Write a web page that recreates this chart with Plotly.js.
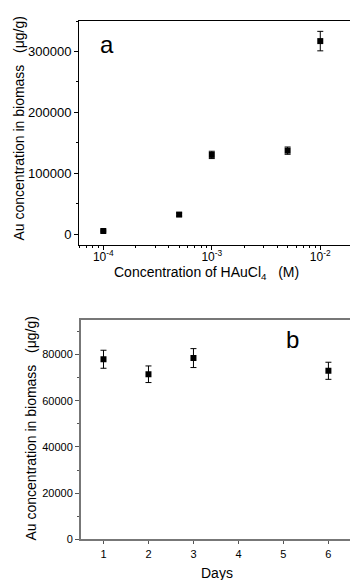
<!DOCTYPE html>
<html><head><meta charset="utf-8">
<script src="https://cdn.plot.ly/plotly-3.0.1.min.js"></script>
<style>html,body{margin:0;padding:0;background:#fff}#chart{width:350px;height:580px}</style>
</head><body><div id="chart"></div>
<script>
// Panel a
const concM = [1e-4, 5e-4, 1e-3, 5e-3, 1e-2];
const auA = [5000, 32000, 130000, 137000, 317000];
const errA = [1500, 2500, 6000, 6000, 16000];
const xTickValsA = [1e-4, 1e-3, 1e-2];
const xTickTextA = ['10<sup>-4</sup>', '10<sup>-3</sup>', '10<sup>-2</sup>'];
const yTickValsA = [0, 100000, 200000, 300000];
// Panel b
const days = [1, 2, 3, 6];
const auB = [78000, 71500, 78500, 73000];
const errB = [3900, 3600, 4100, 3700];
const yTickValsB = [0, 20000, 40000, 60000, 80000];

const W = 350, H = 580;
const minorA = [];
for (let e = -5; e <= -2; e++) for (let m = 2; m <= 9; m++) minorA.push(m * Math.pow(10, e));

const font = 'Arial, "Liberation Sans", sans-serif';
const ytitle = 'Au concentration in biomass &nbsp; (μg/g)';

const traces = [
  {x: concM, y: auA, type: 'scatter', mode: 'markers', xaxis: 'x', yaxis: 'y',
   marker: {symbol: 'square', size: 6, color: '#000'},
   error_y: {type: 'data', array: errA, visible: true, color: '#000', thickness: 1, width: 3}},
  {x: days, y: auB, type: 'scatter', mode: 'markers', xaxis: 'x2', yaxis: 'y2',
   marker: {symbol: 'square', size: 6, color: '#000'},
   error_y: {type: 'data', array: errB, visible: true, color: '#000', thickness: 1, width: 3}}
];

const layout = {
  width: W, height: H, showlegend: false,
  margin: {l: 0, r: 0, t: 0, b: 0},
  paper_bgcolor: '#fff', plot_bgcolor: '#fff',
  font: {family: font, color: '#000', size: 13},
  xaxis: {
    type: 'log', domain: [79 / W, 1], anchor: 'y',
    range: [-4.224, -1.726],
    tickvals: xTickValsA, ticktext: xTickTextA,
    ticks: 'outside', ticklen: 4, tickcolor: '#000', tickwidth: 1,
    ticklabelstandoff: -3,
    minor: {tickvals: minorA, ticks: 'outside', ticklen: 2, tickcolor: '#000', showgrid: false},
    showline: true, linecolor: '#000', linewidth: 1, mirror: true,
    showgrid: false, zeroline: false,
    tickfont: {size: 12}
  },
  yaxis: {
    domain: [1 - 245 / H, 1 - 21 / H], anchor: 'x',
    range: [-18000, 350000],
    tickvals: yTickValsA, ticktext: yTickValsA.map(String),
    ticks: 'outside', ticklen: 4, tickcolor: '#000',
    minor: {tickvals: [50000, 150000, 250000, 350000], ticks: 'outside', ticklen: 2, tickcolor: '#000'},
    showline: true, linecolor: '#000', linewidth: 1,
    showgrid: false, zeroline: false,
    tickfont: {size: 13}
  },
  xaxis2: {
    domain: [81 / W, 1], anchor: 'y2',
    range: [0.5, 6.48],
    tickvals: [1, 2, 3, 4, 5, 6],
    ticks: 'outside', ticklen: 3, tickcolor: '#555',
    showline: true, linecolor: '#777', linewidth: 2, mirror: true,
    showgrid: false, zeroline: false,
    tickfont: {size: 11}
  },
  yaxis2: {
    domain: [1 - 539.3 / H, 1 - 320 / H], anchor: 'x2',
    range: [0, 95000],
    tickvals: yTickValsB, ticktext: yTickValsB.map(String),
    ticks: 'outside', ticklen: 4, tickcolor: '#555',
    minor: {tickvals: [10000, 30000, 50000, 70000, 90000], ticks: 'outside', ticklen: 2, tickcolor: '#555'},
    showline: true, linecolor: '#777', linewidth: 2,
    showgrid: false, zeroline: false,
    tickfont: {size: 11}
  },
  annotations: [
    {text: 'a', xref: 'paper', yref: 'paper', x: 107 / W, y: 1 - 45 / H, xanchor: 'center', yanchor: 'middle', showarrow: false, font: {size: 24}},
    {text: 'b', xref: 'paper', yref: 'paper', x: 292 / W, y: 1 - 339 / H, xanchor: 'center', yanchor: 'middle', showarrow: false, font: {size: 24}},
    {text: ytitle, textangle: -90, xref: 'paper', yref: 'paper', x: 19 / W, y: 1 - 128.5 / H, xanchor: 'center', yanchor: 'middle', showarrow: false, font: {size: 14}},
    {text: ytitle, textangle: -90, xref: 'paper', yref: 'paper', x: 30 / W, y: 1 - 428.5 / H, xanchor: 'center', yanchor: 'middle', showarrow: false, font: {size: 14}},
    {text: 'Concentration of HAuCl<sub>4</sub> &nbsp; (M)', xref: 'paper', yref: 'paper', x: 206.5 / W, y: 1 - 273 / H, xanchor: 'center', yanchor: 'middle', showarrow: false, font: {size: 14}},
    {text: 'Days', xref: 'paper', yref: 'paper', x: 216.5 / W, y: 1 - 573 / H, xanchor: 'center', yanchor: 'middle', showarrow: false, font: {size: 14}}
  ]
};

Plotly.newPlot('chart', traces, layout, {displayModeBar: false, staticPlot: true});
</script></body></html>
